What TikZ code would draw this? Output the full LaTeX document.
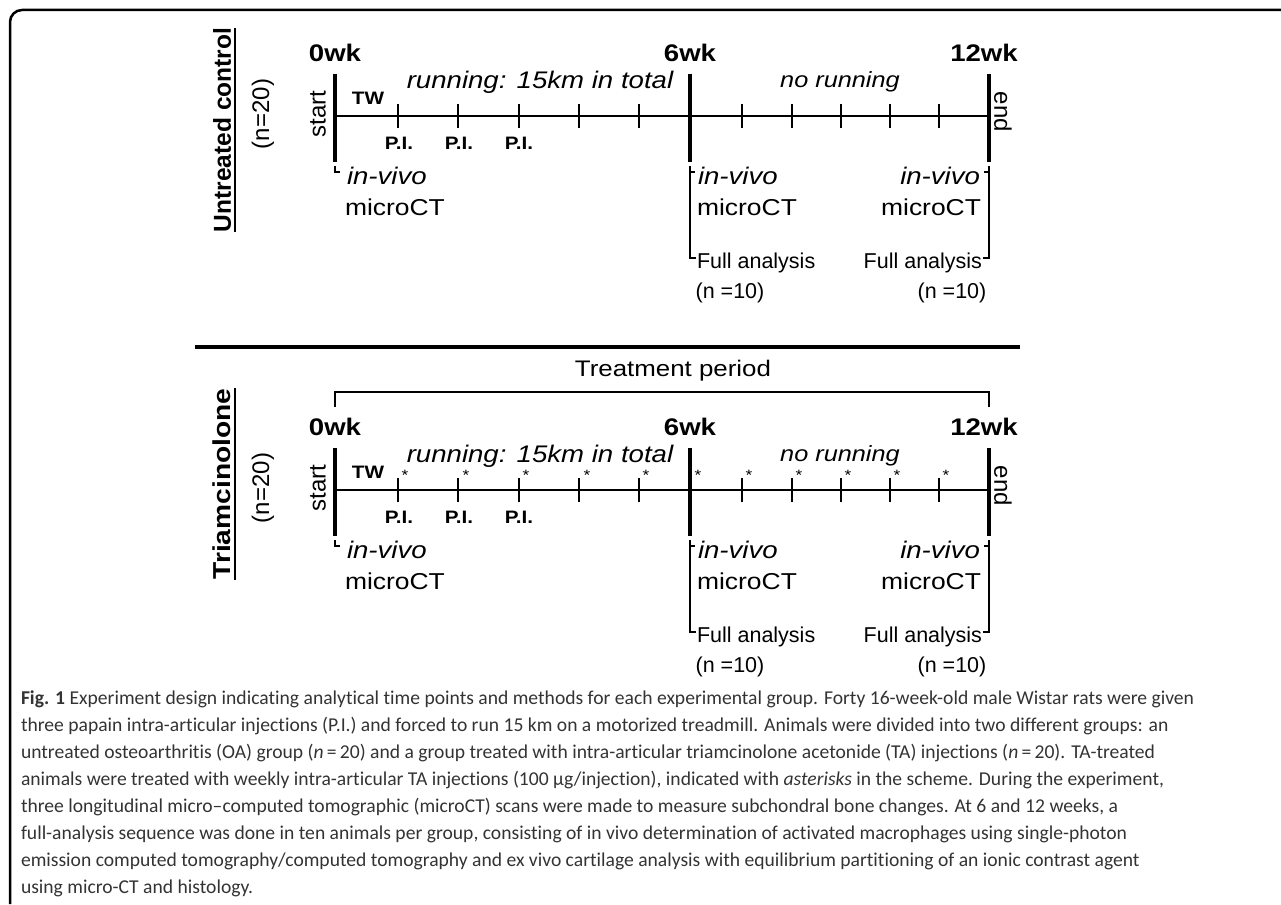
\documentclass[tikz,border=0pt]{standalone}
\usepackage{fontspec}
\setmainfont{Liberation Sans}
\newfontfamily\figfont[FakeStretch=1.15]{Liberation Sans}
\newfontfamily\capfont[Ligatures=CommonOff]{Carlito}
\usepackage{tikz}
\usetikzlibrary{calc}
\definecolor{captionGray}{HTML}{333333}

\tikzset{
  every node/.style={inner sep=0pt, outer sep=0pt},
  wklabel/.style={font=\figfont\fontsize{24}{24}\selectfont\bfseries},
  phaselabel/.style={font=\figfont\fontsize{24}{24}\selectfont\itshape},
  scanlabel/.style={font=\figfont\fontsize{23}{23}\selectfont},
  analysislabel/.style={font=\fontsize{21.5}{21.5}\selectfont},
  smalllabel/.style={font=\figfont\fontsize{18}{18}\selectfont\bfseries},
  sidelabel/.style={font=\fontsize{24}{24}\selectfont, rotate=90},
  endlabel/.style={font=\fontsize{24}{24}\selectfont, rotate=-90},
  grouplabel/.style={font=\fontsize{24.5}{24.5}\selectfont\bfseries, rotate=90},
  injlabel/.style={font=\figfont\fontsize{15}{15}\selectfont},
  weekbar/.style={line width=4.5pt},
  timeline/.style={line width=2pt},
  weektick/.style={line width=1.5pt},
  bracketline/.style={line width=1.3pt},
}

\begin{document}
\begin{tikzpicture}[x=1pt, y=-1pt]
    \useasboundingbox (0,0) rectangle (1281,904);

    % ══════════════════════════════════════════════
    % ══ MARCO ══
    % ══════════════════════════════════════════════
    \draw[line width=2.5pt, rounded corners=12pt] (10,904) -- (10,10) -- (1281,10);

    % ══════════════════════════════════════════════
    % ══ LINEAS DE TIEMPO (control / triamcinolona) ══
    % ══════════════════════════════════════════════
    \foreach \g/\dy/\gy/\grp in {1/0/130/{Untreated control}, 2/374/110/{\figfont Triamcinolone}} {
      \begin{scope}[shift={(0,\dy)}]
        % Nombre del grupo, subrayado
        \node[grouplabel] (grp-\g) at (222,\gy) {\grp};
        \draw[line width=2.5pt] ($(grp-\g.south west)+(4,0)$) -- ($(grp-\g.south east)+(4,0)$);
        \node[sidelabel] (n-\g) at (263,114) {(n=20)};

        % Semanas 0, 6, 12
        \node[wklabel] (wk0-\g) at (335,53) {0wk};
        \node[wklabel] (wk6-\g) at (690,53) {6wk};
        \node[wklabel] (wk12-\g) at (984,53) {12wk};
        \draw[weekbar] (335,74) -- (335,162);
        \draw[weekbar] (690,74) -- (690,162);
        \draw[weekbar] (989,74) -- (989,162);
        \node[sidelabel] (start-\g) at (318,114) {start};
        \node[endlabel] (end-\g) at (1003,112) {end};

        % Eje y marcas semanales
        \draw[timeline] (335,116) -- (989,116);
        \foreach \x in {398,458,519,579,639,742,792,841,890,939}
          \draw[weektick] (\x,104) -- (\x,128);

        % Fases
        \node[smalllabel] (tw-\g) at (368,98) {TW};
        \node[phaselabel] (run-\g) at (540,82) {running: 15km in total};
        \node[phaselabel, font=\figfont\fontsize{22}{22}\selectfont\itshape] (norun-\g) at (840,82) {no running};
        \foreach \x [count=\i] in {399,459,519}
          \node[smalllabel] (pi\i-\g) at (\x,143) {P.I.};

        % microCT semana 0
        \draw[bracketline] (335,166) -- (335,172) -- (340,172);
        \node[phaselabel, anchor=west] (viv0-\g) at (347,176) {in-vivo};
        \node[scanlabel, anchor=west] (ct0-\g) at (345,207) {microCT};

        % microCT + analisis semana 6
        \draw[bracketline] (690,166) -- (690,258) -- (696,258);
        \draw[bracketline] (690,172) -- (695,172);
        \node[phaselabel, anchor=west] (viv6-\g) at (698,176) {in-vivo};
        \node[scanlabel, anchor=west] (ct6-\g) at (697,207) {microCT};
        \node[analysislabel, anchor=west] (fa6-\g) at (697,263) {Full analysis};
        \node[analysislabel] (nn6-\g) at (730,293) {(n =10)};

        % microCT + analisis semana 12
        \draw[bracketline] (989,166) -- (989,258) -- (983,258);
        \draw[bracketline] (989,172) -- (984,172);
        \node[phaselabel, anchor=east] (viv12-\g) at (980,176) {in-vivo};
        \node[scanlabel, anchor=east] (ct12-\g) at (981,207) {microCT};
        \node[analysislabel, anchor=east] (fa12-\g) at (982,263) {Full analysis};
        \node[analysislabel] (nn12-\g) at (952,293) {(n =10)};
      \end{scope}
    }

    % Separador entre grupos
    \draw[line width=4pt] (195,347) -- (1020,347);

    % ══════════════════════════════════════════════
    % ══ PERIODO DE TRATAMIENTO E INYECCIONES TA ══
    % ══════════════════════════════════════════════
    \node[font=\figfont\fontsize{22.5}{22.5}\selectfont] (treat) at (673,371) {Treatment period};
    \draw[bracketline] (335,407) -- (335,392) -- (989,392) -- (989,407);
    \foreach \x [count=\i] in {405,466,526,587,646,698,749,799,848,897,946}
      \node[injlabel] (ast\i) at (\x,475) {*};

    % ══════════════════════════════════════════════
    % ══ LEYENDA ══
    % ══════════════════════════════════════════════
    \node[anchor=north west, align=left, text=captionGray,
          font=\capfont\fontsize{19.6}{26.9}\selectfont] (caption) at (21,691) {%
      \textbf{Fig. 1} Experiment design indicating analytical time points and methods for each experimental group. Forty 16-week-old male Wistar rats were given\\
      three papain intra-articular injections (P.I.) and forced to run 15 km on a motorized treadmill. Animals were divided into two different groups: an\\
      untreated osteoarthritis (OA) group (\textit{n}\,=\,20) and a group treated with intra-articular triamcinolone acetonide (TA) injections (\textit{n}\,=\,20). TA-treated\\
      animals were treated with weekly intra-articular TA injections (100 µg/injection), indicated with \textit{asterisks} in the scheme. During the experiment,\\
      three longitudinal micro–computed tomographic (microCT) scans were made to measure subchondral bone changes. At 6 and 12 weeks, a\\
      full-analysis sequence was done in ten animals per group, consisting of in vivo determination of activated macrophages using single-photon\\
      emission computed tomography/computed tomography and ex vivo cartilage analysis with equilibrium partitioning of an ionic contrast agent\\
      using micro-CT and histology.};
\end{tikzpicture}
\end{document}
